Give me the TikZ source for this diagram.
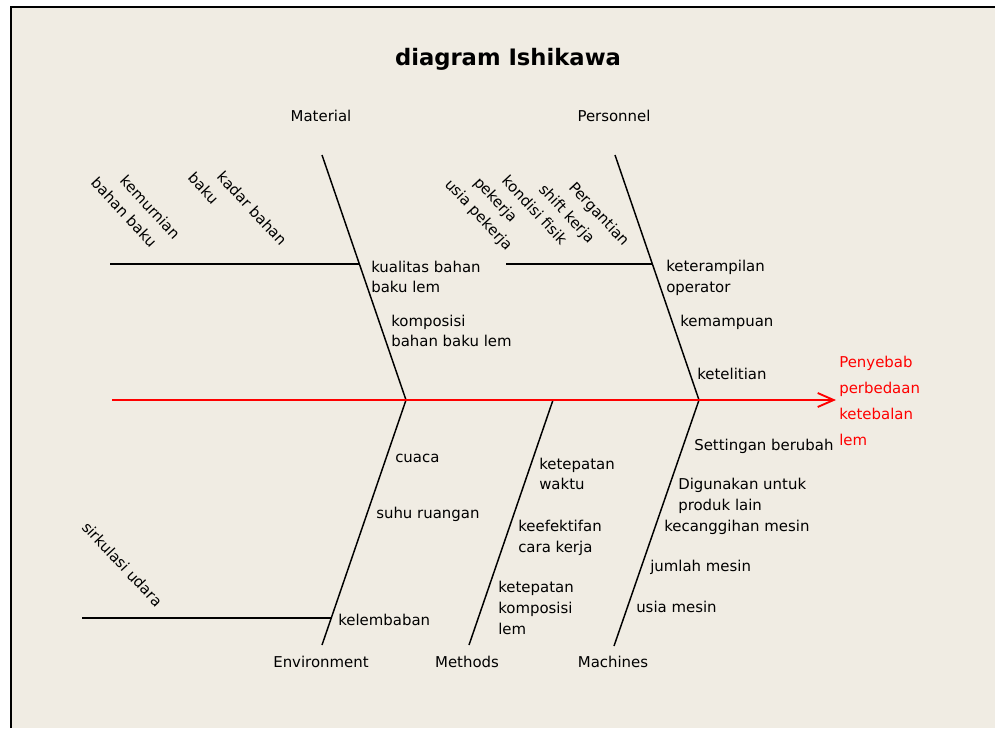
\documentclass[tikz,border=0pt]{standalone}
\usepackage{fontspec}
\setmainfont{DejaVu Sans}
\usetikzlibrary{arrows.meta, positioning}
\definecolor{paper}{RGB}{240,236,227}

\begin{document}
\begin{tikzpicture}[
    x=0.75pt, y=-0.75pt,
    bone/.style={draw=black, line width=1.1pt},
    spine/.style={draw=red, line width=1.4pt, -{Straight Barb[length=12pt, width=10.5pt]}},
    causetext/.style={anchor=west, inner sep=0pt, align=left, font=\fontsize{11.2pt}{15.5pt}\selectfont},
    subcause/.style={anchor=west, inner sep=0pt, rotate=-47, font=\fontsize{11.2pt}{15.5pt}\selectfont},
    category/.style={inner sep=0pt, font=\fontsize{11.2pt}{15.5pt}\selectfont},
    effecttext/.style={anchor=west, inner sep=0pt, align=left, text=red, font=\fontsize{11.2pt}{19.5pt}\selectfont},
    ]

    % page and frame
    \useasboundingbox (0,0) rectangle (995,728);
    \fill[white] (0,0) rectangle (995,728);
    \fill[paper] (11,7) rectangle (995,728);
    \draw[line width=1.2pt] (11,728) |- (995,7);

    \node[font=\fontsize{17pt}{20pt}\selectfont\bfseries] (title) at (508,59) {diagram Ishikawa};

    % bone ends
    \coordinate (matTop)  at (322,155);
    \coordinate (perTop)  at (615,155);
    \coordinate (jLeft)   at (406,400);
    \coordinate (jMid)    at (553,400);
    \coordinate (jRight)  at (699,400);
    \coordinate (envBot)  at (322,645);
    \coordinate (metBot)  at (469,645);
    \coordinate (macBot)  at (614,646);
    \coordinate (tail)    at (112,400);
    \coordinate (head)    at (836,400);

    \coordinate (matFork) at (359.4,264);
    \coordinate (matEnd)  at (110,264);
    \coordinate (perFork) at (652.4,264);
    \coordinate (perEnd)  at (506,264);
    \coordinate (envFork) at (331.3,618);
    \coordinate (envEnd)  at (82,618);

    % categories
    \node[category] (material)    at (321,116) {Material};
    \node[category] (personnel)   at (614,116) {Personnel};
    \node[category] (environment) at (321,662) {Environment};
    \node[category] (methods)     at (467,662) {Methods};
    \node[category] (machines)    at (613,662) {Machines};

    % causes
    \node[causetext] (kualitas)   at (371,277) {kualitas bahan\\baku lem};
    \node[causetext] (komposisi)  at (391,331) {komposisi\\bahan baku lem};
    \node[causetext] (terampil)   at (666,278) {keterampilan\\operator};
    \node[causetext] (mampu)      at (680,322) {kemampuan};
    \node[causetext] (teliti)     at (697,374) {ketelitian};
    \node[causetext] (cuaca)      at (395,458) {cuaca};
    \node[causetext] (suhu)       at (376,514) {suhu ruangan};
    \node[causetext] (lembab)     at (338,620) {kelembaban};
    \node[causetext] (waktu)      at (539,474) {ketepatan\\waktu};
    \node[causetext] (efektif)    at (518,538) {keefektifan\\cara kerja};
    \node[causetext] (tepatlem)   at (498,608) {ketepatan\\komposisi\\lem};
    \node[causetext] (setting)    at (694,446) {Settingan berubah};
    \node[causetext] (produk)     at (678,496) {Digunakan untuk\\produk lain};
    \node[causetext] (canggih)    at (664,527) {kecanggihan mesin};
    \node[causetext] (jumlah)     at (650,567) {jumlah mesin};
    \node[causetext] (usiamesin)  at (636,607) {usia mesin};

    % sub causes
    \node[subcause] (murniA)  at (123,178) {kemurnian};
    \node[subcause] (murniB)  at (94,180)  {bahan baku};
    \node[subcause] (kadarA)  at (220,174) {kadar bahan};
    \node[subcause] (kadarB)  at (191,175) {baku};
    \node[subcause] (gantiA)  at (571,185) {Pergantian};
    \node[subcause] (gantiB)  at (541,187) {shift kerja};
    \node[subcause] (fisikA)  at (505,178) {kondisi fisik};
    \node[subcause] (fisikB)  at (476,180) {pekerja};
    \node[subcause] (usia)    at (447,182) {usia pekerja};
    \node[subcause] (udara)   at (85,524)  {sirkulasi udara};

    % effect
    \node[effecttext] (effect) at (839,401) {Penyebab\\perbedaan\\ketebalan\\lem};

    % bones
    \draw[bone] (matTop) -- (jLeft);
    \draw[bone] (perTop) -- (jRight);
    \draw[bone] (jLeft) -- (envBot);
    \draw[bone] (jMid) -- (metBot);
    \draw[bone] (jRight) -- (macBot);
    \draw[bone] (matEnd) -- (matFork);
    \draw[bone] (perEnd) -- (perFork);
    \draw[bone] (envEnd) -- (envFork);

    \draw[spine] (tail) -- (head);

\end{tikzpicture}
\end{document}
